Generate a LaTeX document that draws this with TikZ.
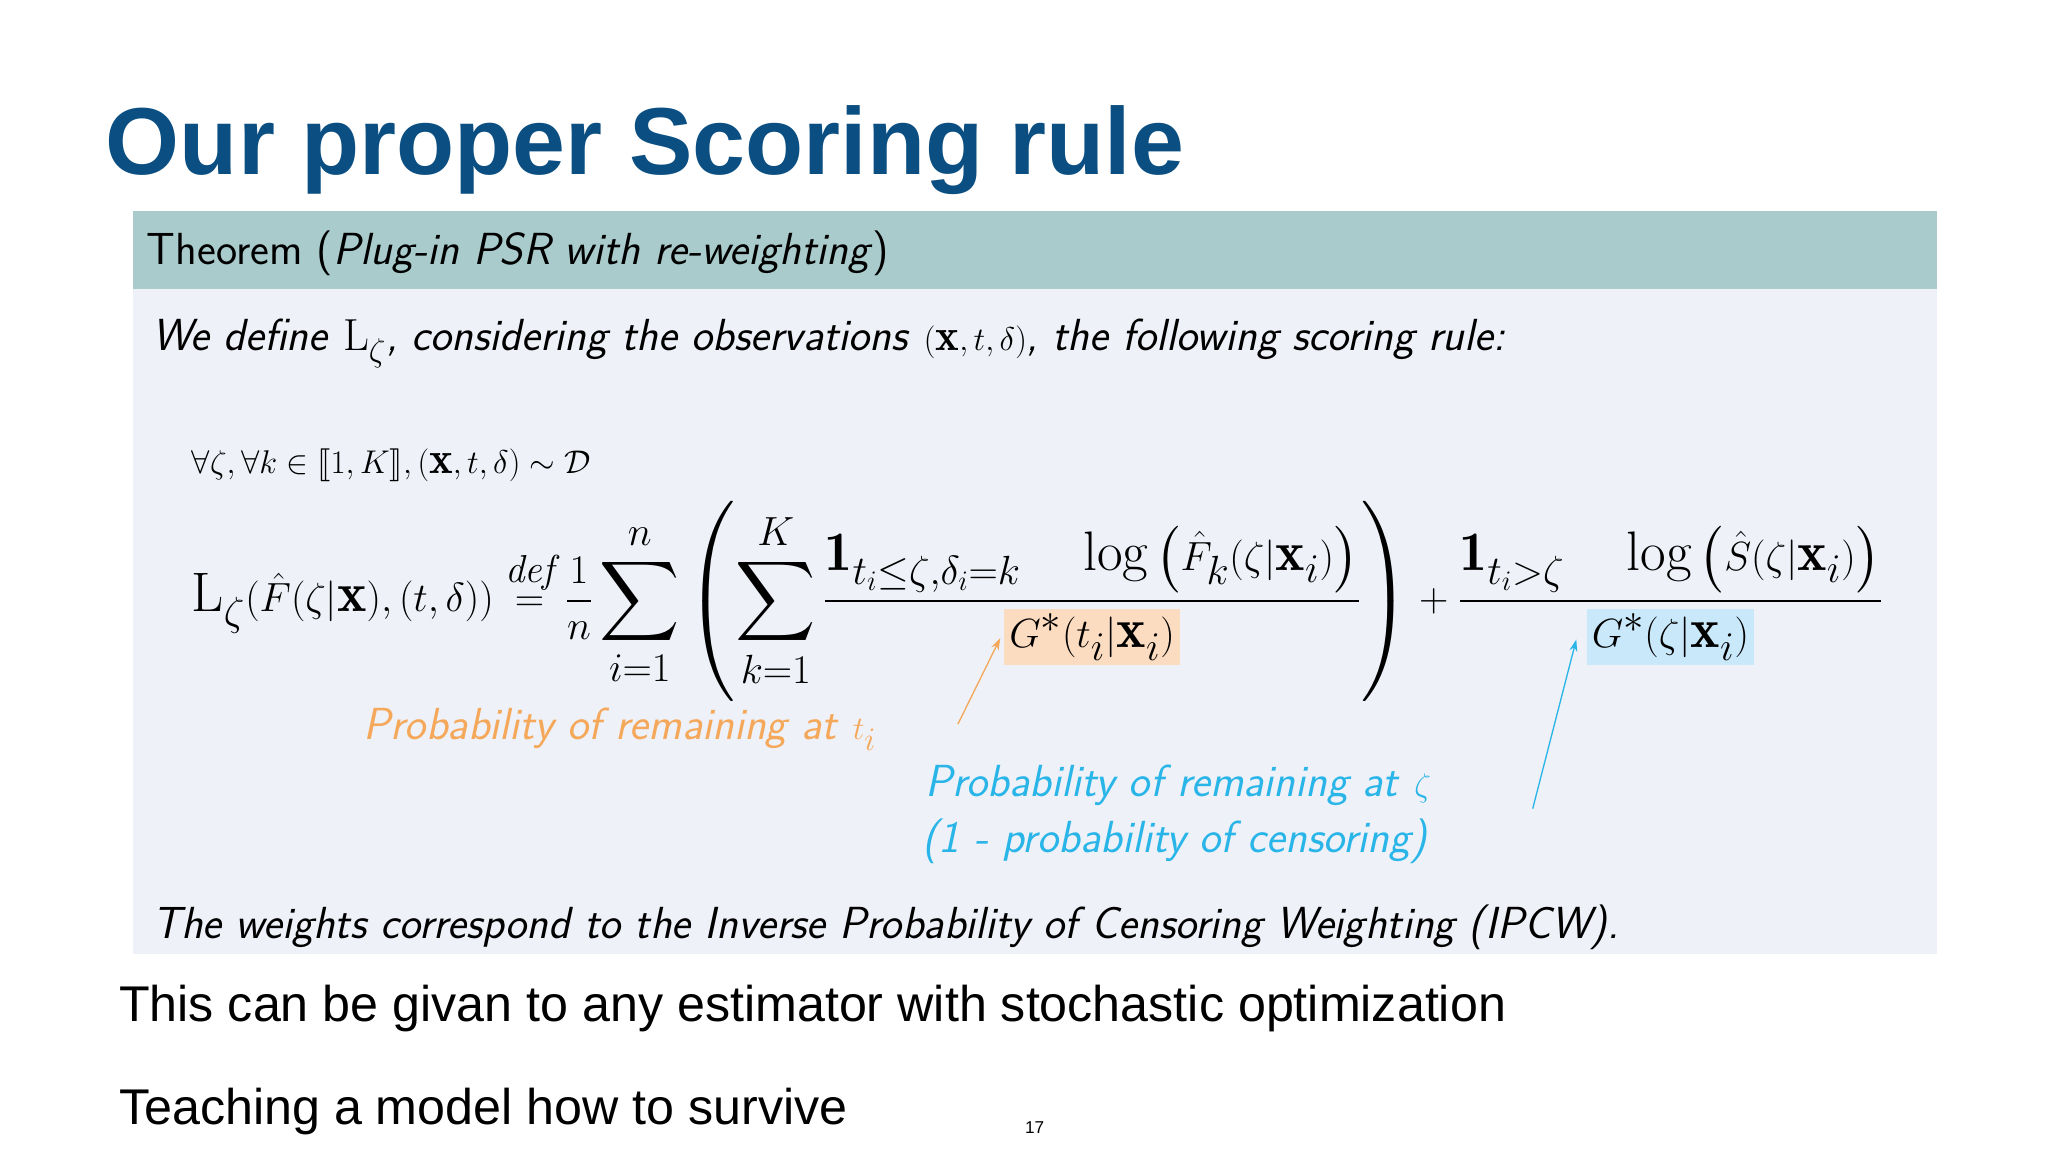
\documentclass[tikz,border=0pt]{standalone}
\usepackage{fontspec}
\usepackage{amsmath,amssymb,stmaryrd,graphicx}
\usetikzlibrary{arrows.meta}
\newfontfamily\arialf{Liberation Sans}
\newcommand{\indic}{\mathbf{1}}
\definecolor{titleblue}{HTML}{0B4F82}
\definecolor{hdr}{HTML}{A9CBCB}
\definecolor{bodyc}{HTML}{EEF1F8}
\definecolor{orbox}{HTML}{FCDCC0}
\definecolor{blbox}{HTML}{C9E8FA}
\definecolor{ortxt}{HTML}{F5A85A}
\definecolor{bltxt}{HTML}{29B5E8}
\tikzset{
  thm/.style={anchor=base west,inner sep=0pt,font=\fontsize{34}{40}\selectfont\sffamily},
  plain/.style={anchor=base west,inner sep=0pt,font=\fontsize{38}{44}\selectfont\arialf},
  pointer/.style={-{Stealth[length=9pt,width=6pt]},line width=1pt}
}
\begin{document}
\begin{tikzpicture}[x=1pt,y=-1pt]
\useasboundingbox[fill=white] (0,0) rectangle (1550,872);
\node[anchor=base west,inner sep=0pt,text=titleblue,font=\fontsize{72}{80}\selectfont\arialf\bfseries] (title) at (80,132) {Our proper Scoring rule};
\fill[hdr] (101,160) rectangle (1466,219);
\fill[bodyc] (101,219) rectangle (1466,722);
\node[thm] (head) at (111,200) {Theorem (\textit{Plug-in PSR with re-weighting})};
\node[thm] (def) at (115,265) {\textit{We define} $\mathrm{L}_\zeta$\textit{, considering the observations} $(\mathbf{x},t,\delta)$\textit{, the following scoring rule:}};
\node[thm] (forall) at (145,358) {$\forall\zeta,\forall k\in\llbracket 1,K\rrbracket,(\mathbf{x},t,\delta)\sim\mathcal{D}$};
\node[anchor=west,inner sep=0pt] (formula) at (145,455) {\resizebox{1280pt}{!}{\fontsize{34}{40}\selectfont
$\displaystyle \mathrm{L}_\zeta(\hat F(\zeta|\mathbf{x}),(t,\delta)) \stackrel{\mathit{def}}{=} \frac{1}{n}\sum_{i=1}^{n}\left(\sum_{k=1}^{K}\frac{\indic_{t_i\le\zeta,\delta_i=k}\quad\log\left(\hat F_k(\zeta|\mathbf{x}_i)\right)}{\colorbox{orbox}{$G^*(t_i|\mathbf{x}_i)$}}\right)+\frac{\indic_{t_i>\zeta}\quad\log\left(\hat S(\zeta|\mathbf{x}_i)\right)}{\colorbox{blbox}{$G^*(\zeta|\mathbf{x}_i)$}}$}};
\node[thm,text=ortxt] (orlab) at (275,560) {\textit{Probability of remaining at} $t_i$};
\node[thm,text=bltxt] (bllab1) at (700,603) {\textit{Probability of remaining at} $\zeta$};
\node[thm,text=bltxt] (bllab2) at (698,645) {\textit{(1 - probability of censoring)}};
\coordinate (orA) at (725,548); \coordinate (orB) at (757,483);
\coordinate (blA) at (1160,612); \coordinate (blB) at (1193,484);
\draw[pointer,ortxt] (orA) -- (orB);
\draw[pointer,bltxt] (blA) -- (blB);
\node[thm] (ipcw) at (115,710) {\textit{The weights correspond to the Inverse Probability of Censoring Weighting (IPCW).}};
\node[plain] (l1) at (90,773) {This can be givan to any estimator with stochastic optimization};
\node[plain] (l2) at (90,851) {Teaching a model how to survive};
\node[anchor=base,inner sep=0pt,font=\fontsize{13}{15}\selectfont\arialf] (pg) at (783,858) {17};
\end{tikzpicture}
\end{document}
